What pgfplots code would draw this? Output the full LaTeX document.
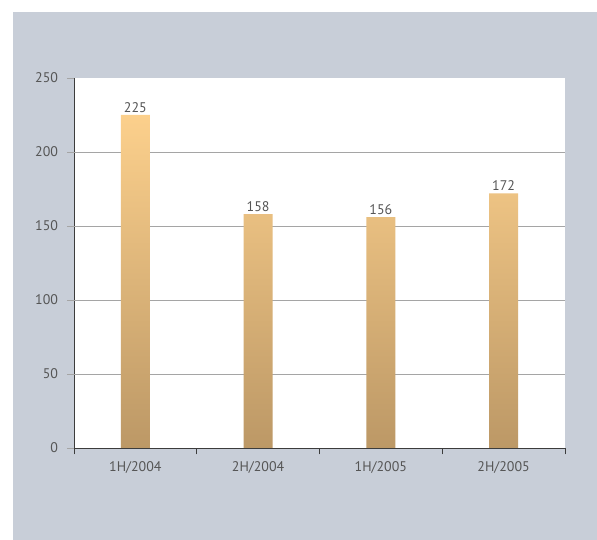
\documentclass[border=0pt]{standalone}
\usepackage{fontspec}
\setmainfont{PT Sans}
\usepackage{pgfplots}
\pgfplotsset{compat=1.18}
\definecolor{panel}{RGB}{200,206,216}
\definecolor{bartop}{RGB}{252,208,140}
\definecolor{barbot}{RGB}{188,152,102}
\definecolor{txt}{RGB}{85,85,85}
\definecolor{axline}{RGB}{60,60,60}
\definecolor{gridc}{RGB}{165,165,165}
\begin{document}
\begin{tikzpicture}
\path[fill=white,use as bounding box] (0,0) rectangle (597bp,540bp);
\fill[panel] (13bp,0) rectangle (597bp,528bp);
\begin{axis}[
  at={(74bp,92bp)}, anchor=south west,
  scale only axis, width=491bp, height=370bp,
  xmin=0, xmax=4, ymin=0, ymax=250,
  axis background/.style={fill=white},
  axis x line*=bottom, axis y line*=left,
  axis line style={axline, line width=0.8pt},
  xtick={0.5,1.5,2.5,3.5},
  xticklabels={1H/2004,2H/2004,1H/2005,2H/2005},
  xtick style={draw=none},
  extra x ticks={0,1,2,3,4}, extra x tick labels={},
  extra x tick style={xtick style={draw=axline, line width=0.8pt}},
  ytick={0,50,...,250},
  ytick style={draw=gridc, line width=0.8pt},
  extra y ticks={50,100,150,200}, extra y tick labels={},
  extra y tick style={grid=major, ytick style={draw=none}},
  grid style={gridc, line width=0.7pt},
  tick align=outside,
  major tick length=6.5bp,
  /pgf/number format/assume math mode=true,
  tick label style={font=\fontsize{14}{16}\selectfont, text=txt},
  xticklabel style={yshift=-4bp},
  yticklabel style={xshift=-6bp},
  ybar, bar width=29bp,
  nodes near coords,
  every node near coord/.append style={font=\fontsize{14}{16}\selectfont, text=txt, yshift=-1bp},
]
\addplot[draw=none, top color=bartop, bottom color=barbot] coordinates {(0.5,225) (1.5,158) (2.5,156) (3.5,172)};
\end{axis}
\end{tikzpicture}
\end{document}
